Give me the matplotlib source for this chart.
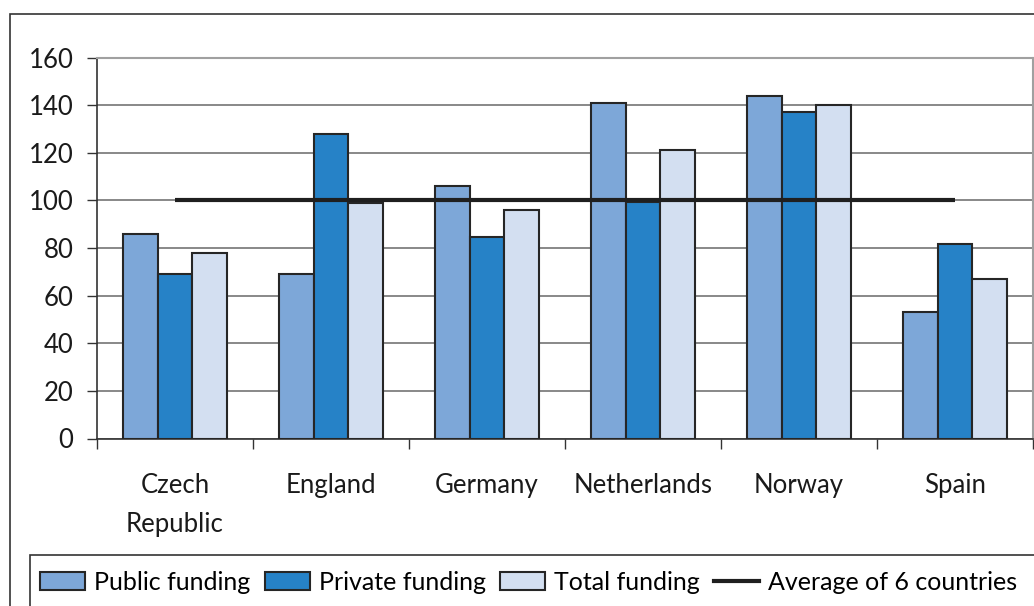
import matplotlib
matplotlib.use("Agg")
import matplotlib.pyplot as plt
import numpy as np
from matplotlib.patches import Patch, Rectangle
from matplotlib.lines import Line2D

# Funding index by country (average of 6 countries = 100)
countries = ["Czech\nRepublic", "England", "Germany", "Netherlands", "Norway", "Spain"]
public_funding = [86, 69, 106, 141, 144, 53]
private_funding = [69, 128, 84.5, 99.5, 137, 81.5]
total_funding = [78, 99, 96, 121, 140, 67]
average_level = [100, 100, 100, 100, 100, 100]
y_ticks = [0, 20, 40, 60, 80, 100, 120, 140, 160]

series_names = ["Public funding", "Private funding", "Total funding"]
series_colors = ["#7DA7D8", "#2682C7", "#D3DFF1"]
edge_color = "#262626"
grid_color = "#7f7f7f"
font = ["Lato", "DejaVu Sans"]
fs = 18.5
legend_fs = 18

W, H = 1034, 606
fig = plt.figure(figsize=(W / 100, H / 100), dpi=100)
ax = fig.add_axes([97 / W, 1 - 438.5 / H, (1033 - 97) / W, (438.5 - 57.5) / H])

x = np.arange(len(countries))
bw = 0.222
for i, (vals, col) in enumerate(zip([public_funding, private_funding, total_funding], series_colors)):
    ax.bar(x + (i - 1) * bw, vals, width=bw, color=col, edgecolor=edge_color,
           linewidth=1.5, zorder=3)

ax.plot(x, average_level, color="#1f1f1f", linewidth=3.0, zorder=4, solid_capstyle="butt")

ax.set_xlim(-0.5, len(countries) - 0.5)
ax.set_ylim(0, 160)
ax.set_yticks(y_ticks)
ax.set_yticklabels([str(v) for v in y_ticks], fontsize=fs, family=font, color="#1a1a1a")
ax.yaxis.grid(True, color=grid_color, linewidth=1.3, zorder=0)
ax.set_axisbelow(True)
ax.tick_params(axis="y", length=7, width=1.0, color="#333333", pad=10)

ax.set_xticks(x)
ax.set_xticklabels(countries, fontsize=fs, family=font, color="#1a1a1a", linespacing=1.7,
                   va="top")
ax.tick_params(axis="x", length=0, pad=25)
ax.set_xticks(np.arange(len(countries) + 1) - 0.5, minor=True)
ax.tick_params(axis="x", which="minor", length=7, width=1.0, color="#333333")

for side in ["left", "bottom"]:
    ax.spines[side].set_color("#333333")
    ax.spines[side].set_linewidth(1.2)
for side in ["top", "right"]:
    ax.spines[side].set_color("#a0a0a0")
    ax.spines[side].set_linewidth(1.5)

# outer chart frame
fig.patches.append(Rectangle((10 / W, -0.1), 1.2, 1 - 14 / H + 0.1, transform=fig.transFigure,
                             fill=False, edgecolor="#333333", linewidth=1.2))
# legend frame
fig.patches.append(Rectangle((30 / W, -0.1), 1.2, 1 - 555 / H + 0.1, transform=fig.transFigure,
                             fill=False, edgecolor="#333333", linewidth=1.2))

handles = [Patch(facecolor=c, edgecolor=edge_color, linewidth=1.5) for c in series_colors]
handles.append(Line2D([0], [0], color="#1f1f1f", linewidth=3.0))
labels = series_names + ["Average of 6 countries"]
fig.legend(handles, labels, loc="center left", bbox_to_anchor=(40 / W, 1 - 582 / H),
           ncol=4, frameon=False, prop={"family": font, "size": legend_fs},
           handlelength=1.8, handleheight=0.7, handletextpad=0.38, columnspacing=0.55,
           borderaxespad=0, borderpad=0)

fig.savefig("out.png", dpi=100)
